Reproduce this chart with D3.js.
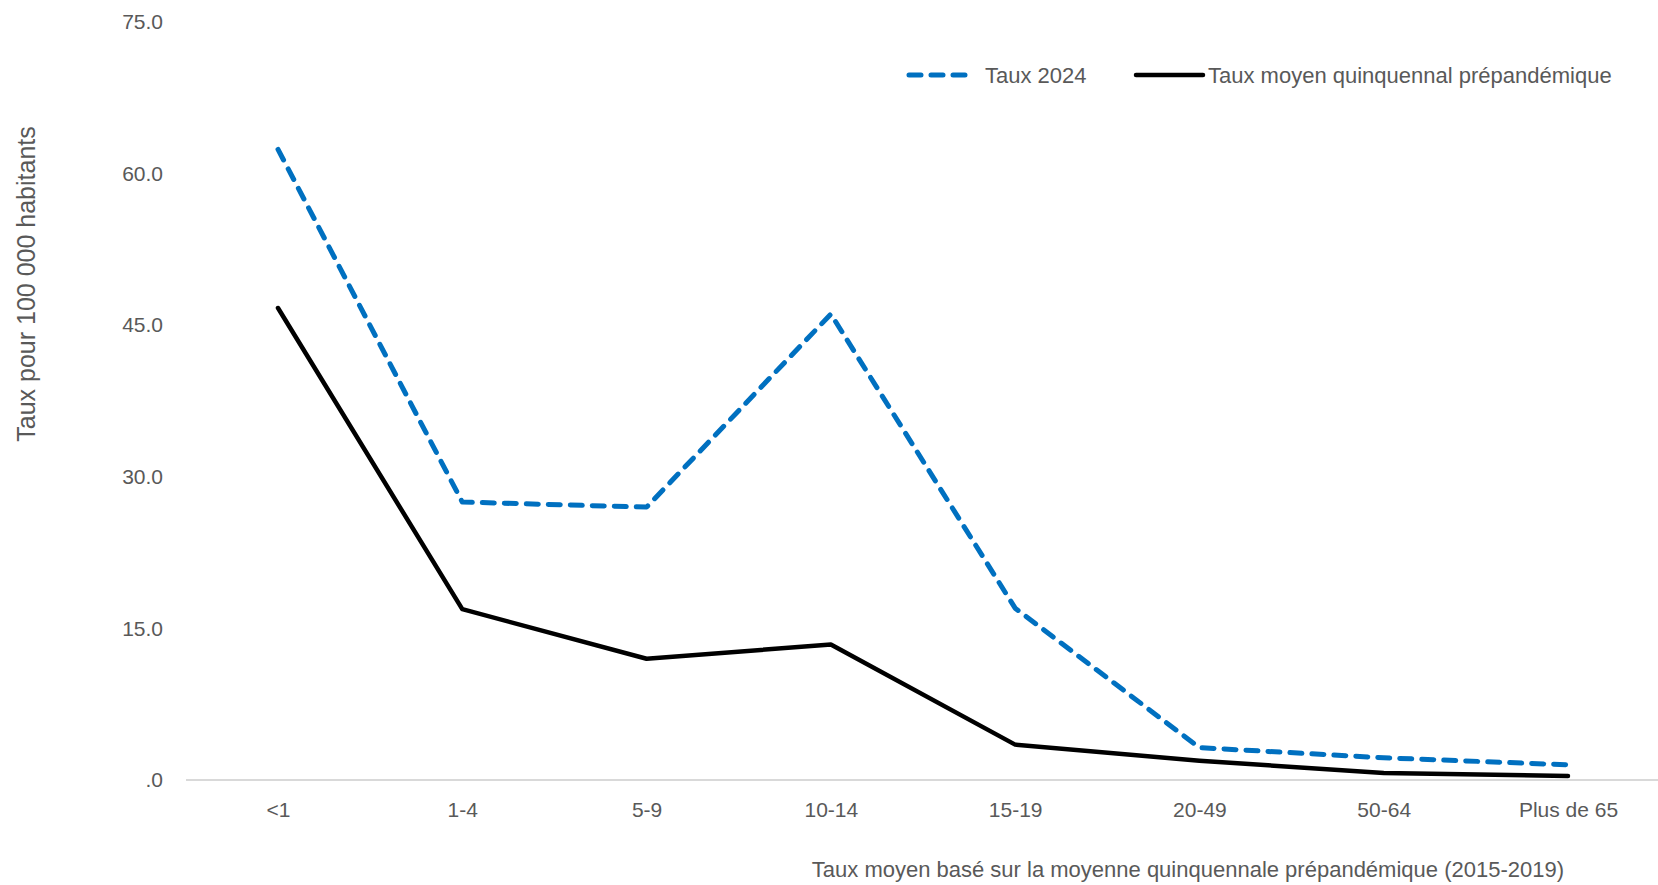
<!DOCTYPE html>
<html>
<head>
<meta charset="utf-8">
<script src="https://cdn.jsdelivr.net/npm/d3@7"></script>
<style>
  html, body { margin: 0; padding: 0; background: #fff; }
  svg { display: block; }
  text { font-family: "Liberation Sans Narrow", "Liberation Sans", Arial, sans-serif; fill: #595959; }
</style>
</head>
<body>
<svg id="chart" width="1658" height="885"></svg>
<script>
// Age groups on the x axis
const ageGroups = ["<1", "1-4", "5-9", "10-14", "15-19", "20-49", "50-64", "Plus de 65"];
// Rate per 100 000 inhabitants, 2024
const rate2024 = [62.4, 27.5, 27.0, 46.1, 17.0, 3.2, 2.2, 1.5];
// Pre-pandemic five-year average rate (2015-2019)
const ratePrepandemic = [46.7, 16.9, 12.0, 13.4, 3.5, 1.9, 0.7, 0.4];
// Y axis ticks
const yTicks = [0, 15, 30, 45, 60, 75];

const seriesNames = ["Taux 2024", "Taux moyen quinquennal prépandémique"];
const yTitle = "Taux pour 100 000 habitants";
const xCaption = "Taux moyen basé sur la moyenne quinquennale prépandémique (2015-2019)";

const svg = d3.select("#chart");
const fontSize = 21;
const textSize = 22;

const x = d3.scalePoint().domain(ageGroups).range([278, 1568]);
const y = d3.scaleLinear().domain([0, 75]).range([780, 22]);

// Baseline
svg.append("line")
  .attr("x1", 186).attr("x2", 1658)
  .attr("y1", y(0)).attr("y2", y(0))
  .attr("stroke", "#d9d9d9").attr("stroke-width", 2);

// Y axis tick labels
const yAxis = d3.axisLeft(y).tickValues(yTicks)
  .tickFormat(d => d === 0 ? ".0" : d3.format(".1f")(d))
  .tickSize(0).tickPadding(0);
const gy = svg.append("g").attr("transform", "translate(163,0)").call(yAxis);
gy.select(".domain").remove();
gy.selectAll("text").style("font-size", fontSize + "px").attr("fill", "#595959")
  .style("font-family", null);

// X axis tick labels
const xAxis = d3.axisBottom(x).tickSize(0).tickPadding(0);
const gx = svg.append("g").attr("transform", "translate(0,802)").call(xAxis);
gx.select(".domain").remove();
gx.selectAll("text").style("font-size", fontSize + "px").attr("fill", "#595959")
  .style("font-family", null);

// Lines
const line = d3.line().x((d, i) => x(ageGroups[i])).y(d => y(d));

svg.append("path").datum(ratePrepandemic)
  .attr("d", line).attr("fill", "none")
  .attr("stroke", "#000").attr("stroke-width", 4.5)
  .attr("stroke-linejoin", "round").attr("stroke-linecap", "round");

svg.append("path").datum(rate2024)
  .attr("d", line).attr("fill", "none")
  .attr("stroke", "#0070c0").attr("stroke-width", 5)
  .attr("stroke-dasharray", "12,10")
  .attr("stroke-linejoin", "round").attr("stroke-linecap", "round");

// Legend
const lg = svg.append("g");
lg.append("line").attr("x1", 909).attr("x2", 972).attr("y1", 75).attr("y2", 75)
  .attr("stroke", "#0070c0").attr("stroke-width", 5)
  .attr("stroke-dasharray", "12,10").attr("stroke-linecap", "round");
lg.append("text").attr("x", 985).attr("y", 75).attr("dy", "0.35em")
  .style("font-size", textSize + "px").text(seriesNames[0]);
lg.append("line").attr("x1", 1136).attr("x2", 1203).attr("y1", 75).attr("y2", 75)
  .attr("stroke", "#000").attr("stroke-width", 4.5).attr("stroke-linecap", "round");
lg.append("text").attr("x", 1208).attr("y", 75).attr("dy", "0.35em")
  .style("font-size", textSize + "px").text(seriesNames[1]);

// Y axis title
svg.append("text")
  .attr("transform", "translate(26,284) rotate(-90)")
  .attr("text-anchor", "middle").attr("dy", "0.35em")
  .style("font-size", "25px").text(yTitle);

// Caption under the axis
svg.append("text")
  .attr("x", 1564).attr("y", 869).attr("dy", "0.35em")
  .attr("text-anchor", "end")
  .style("font-size", textSize + "px").text(xCaption);
</script>
</body>
</html>
